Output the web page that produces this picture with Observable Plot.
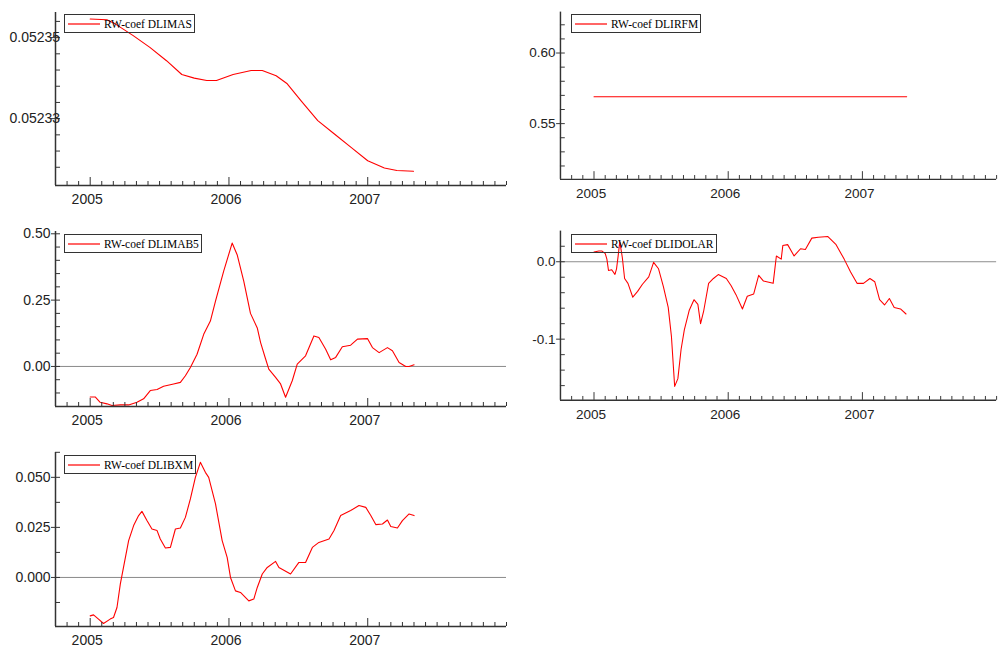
<!DOCTYPE html>
<html><head><meta charset="utf-8">
<script src="https://cdn.jsdelivr.net/npm/d3@7"></script>
<script src="https://cdn.jsdelivr.net/npm/@observablehq/plot@0.6"></script>
<style>
html,body{margin:0;padding:0;background:#fff;overflow:hidden;width:1000px;height:648px;}
#root{position:relative;width:1000px;height:648px;overflow:hidden;}
.panel{position:absolute;}
.legend{position:absolute;display:flex;align-items:center;border:1px solid #333;height:17px;padding:0 2px 0 3px;font-family:"Liberation Serif","Times New Roman",serif;font-size:11.5px;color:#000;white-space:nowrap;background:transparent;box-sizing:content-box;}
.legend svg{display:block;margin-right:4px;}
</style></head><body><div id="root"></div>
<script>
const years = [2005, 2006, 2007];
const yearLabels = ["2005", "2006", "2007"];
const xDomain = [2004.75, 2008];

// RW-coef DLIMAS
const dlimasX = [2005.00, 2005.12, 2005.18, 2005.31, 2005.43, 2005.55, 2005.66, 2005.75, 2005.84, 2005.91, 2006.03, 2006.16, 2006.24, 2006.34, 2006.42, 2006.52, 2006.64, 2006.76, 2006.88, 2007.00, 2007.12, 2007.21, 2007.33];
const dlimasY = [0.0523546, 0.0523544, 0.0523534, 0.0523505, 0.0523476, 0.0523443, 0.0523409, 0.0523400, 0.0523394, 0.0523394, 0.0523409, 0.0523419, 0.0523419, 0.0523406, 0.0523386, 0.0523344, 0.0523295, 0.0523262, 0.0523229, 0.0523196, 0.0523178, 0.0523172, 0.0523170];
const dlimasTicks = [0.05235, 0.05233];
const dlimasTickLabels = ["0.05235", "0.05233"];
const dlimasMinor = [0.052318, 0.052322, 0.052326, 0.052334, 0.052338, 0.052342, 0.052346, 0.052354];

// RW-coef DLIRFM
const dlirfmX = [2005.00, 2007.33];
const dlirfmY = [0.569, 0.569];
const dlirfmTicks = [0.60, 0.55];
const dlirfmTickLabels = ["0.60", "0.55"];
const dlirfmMinor = [0.52, 0.53, 0.54, 0.56, 0.57, 0.58, 0.59, 0.61, 0.62];

// RW-coef DLIMAB5
const dlimab5X = [2005.000, 2005.036, 2005.072, 2005.121, 2005.157, 2005.217, 2005.277, 2005.337, 2005.385, 2005.433, 2005.482, 2005.529, 2005.601, 2005.650, 2005.686, 2005.722, 2005.770, 2005.818, 2005.866, 2005.903, 2005.962, 2006.023, 2006.059, 2006.107, 2006.155, 2006.204, 2006.228, 2006.263, 2006.287, 2006.336, 2006.372, 2006.408, 2006.456, 2006.492, 2006.552, 2006.612, 2006.648, 2006.697, 2006.733, 2006.769, 2006.817, 2006.877, 2006.926, 2006.998, 2007.034, 2007.082, 2007.142, 2007.178, 2007.226, 2007.274, 2007.298, 2007.334];
const dlimab5Y = [-0.115, -0.115, -0.135, -0.141, -0.147, -0.145, -0.145, -0.135, -0.122, -0.091, -0.087, -0.075, -0.066, -0.060, -0.035, -0.004, 0.046, 0.121, 0.171, 0.246, 0.359, 0.465, 0.421, 0.321, 0.200, 0.145, 0.090, 0.030, -0.010, -0.041, -0.066, -0.116, -0.054, 0.009, 0.040, 0.115, 0.109, 0.065, 0.025, 0.034, 0.074, 0.080, 0.103, 0.105, 0.071, 0.052, 0.071, 0.059, 0.015, 0.000, 0.000, 0.006];
const dlimab5Ticks = [0.50, 0.25, 0.00];
const dlimab5TickLabels = ["0.50", "0.25", "0.00"];
const dlimab5Minor = [-0.10, -0.05, 0.05, 0.10, 0.15, 0.20, 0.30, 0.35, 0.40, 0.45];

// RW-coef DLIDOLAR
const dlidolarX = [2005.000, 2005.036, 2005.060, 2005.084, 2005.096, 2005.108, 2005.132, 2005.156, 2005.168, 2005.180, 2005.192, 2005.211, 2005.228, 2005.253, 2005.289, 2005.325, 2005.361, 2005.408, 2005.444, 2005.481, 2005.517, 2005.553, 2005.577, 2005.601, 2005.625, 2005.649, 2005.673, 2005.709, 2005.745, 2005.774, 2005.794, 2005.818, 2005.854, 2005.890, 2005.926, 2005.986, 2006.022, 2006.058, 2006.106, 2006.142, 2006.190, 2006.227, 2006.263, 2006.335, 2006.359, 2006.395, 2006.407, 2006.443, 2006.491, 2006.539, 2006.575, 2006.623, 2006.671, 2006.743, 2006.804, 2006.864, 2006.912, 2006.960, 2007.008, 2007.056, 2007.092, 2007.128, 2007.165, 2007.201, 2007.237, 2007.284, 2007.325];
const dlidolarY = [0.0125, 0.0138, 0.0138, 0.0104, 0.0034, -0.0113, -0.0104, -0.0163, -0.0091, 0.0075, 0.026, 0.0055, -0.0216, -0.0279, -0.0458, -0.0383, -0.0291, -0.0195, -0.0008, -0.0091, -0.032, -0.059, -0.0966, -0.161, -0.151, -0.113, -0.088, -0.063, -0.049, -0.055, -0.080, -0.063, -0.028, -0.0216, -0.0166, -0.0216, -0.031, -0.0425, -0.061, -0.0445, -0.0416, -0.0175, -0.025, -0.0279, 0.0075, 0.0034, 0.0209, 0.0221, 0.0075, 0.0168, 0.0159, 0.0305, 0.0317, 0.0325, 0.0221, 0.0034, -0.0133, -0.0279, -0.0279, -0.0216, -0.0258, -0.049, -0.0558, -0.0475, -0.059, -0.061, -0.0675];
const dlidolarTicks = [0.0, -0.1];
const dlidolarTickLabels = ["0.0", "-0.1"];
const dlidolarMinor = [0.02, -0.02, -0.04, -0.06, -0.08, -0.12, -0.14, -0.16];

// RW-coef DLIBXM
const dlibxmX = [2005.000, 2005.024, 2005.060, 2005.096, 2005.144, 2005.168, 2005.193, 2005.217, 2005.240, 2005.277, 2005.313, 2005.349, 2005.373, 2005.409, 2005.445, 2005.482, 2005.505, 2005.542, 2005.578, 2005.614, 2005.650, 2005.686, 2005.722, 2005.758, 2005.794, 2005.830, 2005.854, 2005.903, 2005.951, 2005.987, 2006.011, 2006.047, 2006.083, 2006.143, 2006.179, 2006.204, 2006.240, 2006.276, 2006.336, 2006.360, 2006.444, 2006.504, 2006.552, 2006.601, 2006.648, 2006.721, 2006.757, 2006.805, 2006.877, 2006.937, 2006.986, 2007.022, 2007.058, 2007.106, 2007.142, 2007.166, 2007.214, 2007.250, 2007.298, 2007.334];
const dlibxmY = [-0.0192, -0.0187, -0.0208, -0.023, -0.0208, -0.020, -0.015, -0.0033, 0.005, 0.0184, 0.0259, 0.0309, 0.033, 0.0284, 0.0242, 0.0234, 0.0192, 0.0147, 0.015, 0.0242, 0.0247, 0.030, 0.0392, 0.050, 0.0575, 0.0525, 0.050, 0.0367, 0.0184, 0.010, 0.000, -0.0067, -0.0075, -0.0117, -0.0108, -0.005, 0.0017, 0.005, 0.008, 0.005, 0.0017, 0.0075, 0.0075, 0.015, 0.0175, 0.0192, 0.0234, 0.0309, 0.0334, 0.0359, 0.035, 0.0309, 0.0264, 0.0267, 0.0287, 0.0254, 0.0247, 0.0284, 0.0317, 0.0309];
const dlibxmTicks = [0.050, 0.025, 0.000];
const dlibxmTickLabels = ["0.050", "0.025", "0.000"];
const dlibxmMinor = [-0.0125, 0.0125, 0.0375, 0.0625];

const axisColor = "#333";
const plotW = 451;
const monthTicks = d3.range(1, 40).map(i => 2004.75 + i / 12).filter(v => !years.some(y => Math.abs(y - v) < 1e-6));
const svgNS = "http://www.w3.org/2000/svg";

function panel(cfg) {
  const mt = 12, mb = 26, mr = 4;
  const height = mt + cfg.plotH + mb;
  const width = cfg.ml + plotW + mr;
  const data = cfg.x.map((x, i) => ({x, y: cfg.y[i]}));
  const marks = [];
  if (cfg.zero) marks.push(Plot.ruleY([0], {stroke: "#8a8a8a", strokeWidth: 1}));
  marks.push(Plot.line(data, {x: "x", y: "y", stroke: "#ff0000", strokeWidth: 1.1}));
  marks.push(Plot.ruleY([cfg.yDomain[0]], {stroke: axisColor, strokeWidth: 1.5}));
  marks.push(Plot.ruleX([xDomain[0]], {stroke: axisColor, strokeWidth: 1.5}));
  marks.push(Plot.tickX(monthTicks, {x: d => d, stroke: axisColor, insetTop: cfg.plotH - 4}));
  marks.push(Plot.tickX(years, {x: d => d, stroke: axisColor, insetTop: cfg.plotH - 8}));
  marks.push(Plot.tickY(cfg.yMinor, {y: d => d, stroke: axisColor, insetRight: plotW - 5}));
  marks.push(Plot.tickY(cfg.yTicks, {y: d => d, stroke: axisColor, insetLeft: -4, insetRight: plotW - 5}));
  marks.push(Plot.text(cfg.yTicks, {y: d => d, text: (d, i) => cfg.yLabels[i], frameAnchor: "left", textAnchor: cfg.labelAnchor || "end", dx: cfg.labelDx ?? -5, fontSize: 14, fill: "#222"}));
  marks.push(Plot.text(years, {x: d => d, text: (d, i) => yearLabels[i], frameAnchor: "bottom", lineAnchor: "top", dy: 9, dx: -3, fontSize: 14, fill: "#222"}));
  const svg = Plot.plot({
    width, height,
    marginLeft: cfg.ml, marginRight: mr, marginTop: mt, marginBottom: mb,
    x: {domain: xDomain, axis: null},
    y: {domain: cfg.yDomain, axis: null},
    style: {fontFamily: '"Liberation Sans", Arial, sans-serif', background: "transparent", overflow: "visible"},
    marks
  });
  const div = document.createElement("div");
  div.className = "panel";
  div.style.left = cfg.left + "px";
  div.style.top = cfg.top + "px";
  div.appendChild(svg);
  document.getElementById("root").appendChild(div);
  const leg = document.createElement("div");
  leg.className = "legend";
  leg.style.left = (cfg.left + cfg.ml + 9) + "px";
  leg.style.top = (cfg.top + mt + cfg.legDy) + "px";
  const sw = document.createElementNS(svgNS, "svg");
  sw.setAttribute("width", "32");
  sw.setAttribute("height", "6");
  const ln = document.createElementNS(svgNS, "line");
  ln.setAttribute("x1", "0"); ln.setAttribute("x2", "32");
  ln.setAttribute("y1", "3"); ln.setAttribute("y2", "3");
  ln.setAttribute("stroke", "#ff0000");
  ln.setAttribute("stroke-width", "1.2");
  sw.appendChild(ln);
  leg.appendChild(sw);
  leg.appendChild(document.createTextNode(cfg.name));
  document.getElementById("root").appendChild(leg);
}

panel({name: "RW-coef DLIMAS", left: 0, top: 0, ml: 55, plotH: 173, x: dlimasX, y: dlimasY,
  yDomain: [0.0523135, 0.0523562], yTicks: dlimasTicks, yLabels: dlimasTickLabels, yMinor: dlimasMinor,
  zero: false, labelAnchor: "start", labelDx: -46, legDy: 2});
panel({name: "RW-coef DLIRFM", left: 500, top: 0, ml: 62, plotH: 173, x: dlirfmX, y: dlirfmY,
  yDomain: [0.5105, 0.629], yTicks: dlirfmTicks, yLabels: dlirfmTickLabels, yMinor: dlirfmMinor,
  zero: false, legDy: 2});
panel({name: "RW-coef DLIMAB5", left: 0, top: 219, ml: 55, plotH: 175, x: dlimab5X, y: dlimab5Y,
  yDomain: [-0.151, 0.5086], yTicks: dlimab5Ticks, yLabels: dlimab5TickLabels, yMinor: dlimab5Minor,
  zero: true, legDy: 3});
panel({name: "RW-coef DLIDOLAR", left: 500, top: 219, ml: 62, plotH: 175, x: dlidolarX, y: dlidolarY,
  yDomain: [-0.179, 0.0396], yTicks: dlidolarTicks, yLabels: dlidolarTickLabels, yMinor: dlidolarMinor,
  zero: true, legDy: 3});
panel({name: "RW-coef DLIBXM", left: 0, top: 440, ml: 55, plotH: 174, x: dlibxmX, y: dlibxmY,
  yDomain: [-0.0245, 0.0624], yTicks: dlibxmTicks, yLabels: dlibxmTickLabels, yMinor: dlibxmMinor,
  zero: true, legDy: 3});
</script>
</body></html>
